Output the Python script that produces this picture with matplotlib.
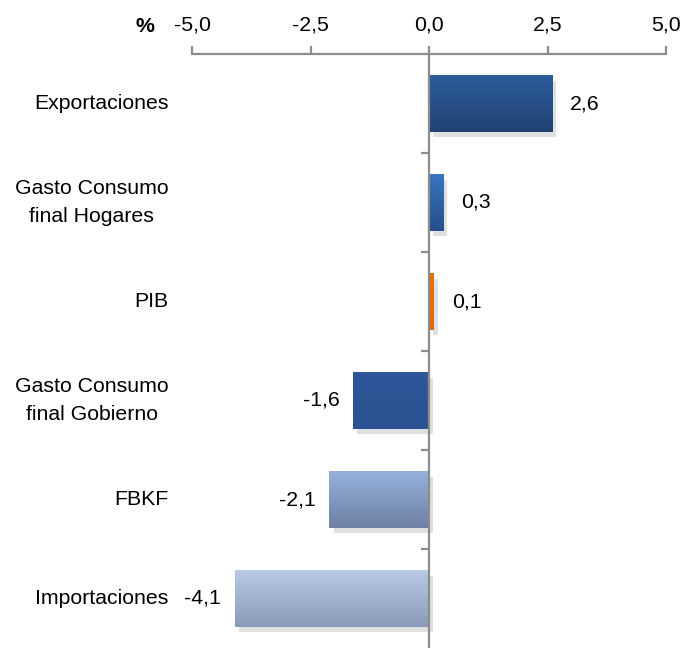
import numpy as np
import matplotlib
matplotlib.use("Agg")
import matplotlib.pyplot as plt
import matplotlib.transforms as mtransforms
from matplotlib.colors import LinearSegmentedColormap
from matplotlib import patheffects as pe

plt.rcParams['font.family'] = ['Liberation Sans', 'DejaVu Sans']

# Data
categories = ["Exportaciones", "Gasto Consumo\nfinal Hogares", "PIB",
              "Gasto Consumo\nfinal Gobierno", "FBKF", "Importaciones"]
values = [2.6, 0.3, 0.1, -1.6, -2.1, -4.1]
xticks = [-5.0, -2.5, 0.0, 2.5, 5.0]
# gradient colours (top, bottom) for each bar
grad_top = ["#2c5c9b", "#3a74c0", "#e8700c", "#2f5699", "#97b1dc", "#bacae5"]
grad_bot = ["#1f4373", "#244f8b", "#e06808", "#2b5292", "#6e80a4", "#8c9aba"]

fs = 15.3

fig = plt.figure(figsize=(6.82, 6.48), dpi=100)
ax = fig.add_axes([192 / 682, 0.0, (666 - 192) / 682, 1 - 54 / 648])

y = np.arange(len(categories))
ax.set_xlim(-5, 5)
ax.set_ylim(len(categories) - 0.5, -0.5)

bars = ax.barh(y, values, height=0.57, color=grad_bot, zorder=2,
               path_effects=[pe.SimplePatchShadow(offset=(3, -4), shadow_rgbFace="#999999", alpha=0.3),
                             pe.Normal()])

# gradient fill clipped to each bar
grad = np.linspace(0, 1, 100).reshape(-1, 1)
for b, c0, c1 in zip(bars, grad_top, grad_bot):
    cmap = LinearSegmentedColormap.from_list("g", [c0, c1])
    x0, y0 = b.get_x(), b.get_y()
    w, h = b.get_width(), b.get_height()
    im = ax.imshow(grad, cmap=cmap, aspect="auto", zorder=3,
                   extent=[x0, x0 + w, y0 + h, y0], origin="upper")
    im.set_clip_path(b)
ax.set_xlim(-5, 5)
ax.set_ylim(len(categories) - 0.5, -0.5)

# value labels
for yi, v in zip(y, values):
    lab = f"{v:.1f}".replace(".", ",")
    if v >= 0:
        ax.annotate(lab, (v, yi), xytext=(13, 0), textcoords="offset points",
                    ha="left", va="center", fontsize=fs)
    else:
        ax.annotate(lab, (v, yi), xytext=(-10, 0), textcoords="offset points",
                    ha="right", va="center", fontsize=fs)

# category labels
trans = mtransforms.blended_transform_factory(ax.transAxes, ax.transData)
for yi, c in zip(y, categories):
    ax.annotate(c, (0, yi), xycoords=trans, xytext=(-17, 0), textcoords="offset points",
                ha="right", va="center", multialignment="center", fontsize=fs,
                linespacing=1.55)

# axes styling
axis_col = "#8c8c8c"
for s in ["right", "bottom"]:
    ax.spines[s].set_visible(False)
ax.spines["top"].set_color(axis_col)
ax.spines["top"].set_linewidth(1.6)
ax.spines["left"].set_position(("data", 0))
ax.spines["left"].set_color(axis_col)
ax.spines["left"].set_linewidth(1.6)
ax.spines["left"].set_zorder(4)

ax.xaxis.tick_top()
ax.set_xticks(xticks)
ax.set_xticklabels([f"{t:.1f}".replace(".", ",") for t in xticks], fontsize=fs)
ax.tick_params(axis="x", direction="out", length=6, width=1.6, color=axis_col, pad=8)

ax.set_yticks(np.arange(0.5, len(categories) - 0.5, 1.0))
ax.set_yticklabels([])
ax.tick_params(axis="y", direction="out", length=6, width=1.6, color=axis_col)

fig.text(145 / 682, 1 - 27 / 648, "%", fontsize=fs, fontweight="bold", ha="center", va="center")

fig.savefig("out.png", dpi=100)
